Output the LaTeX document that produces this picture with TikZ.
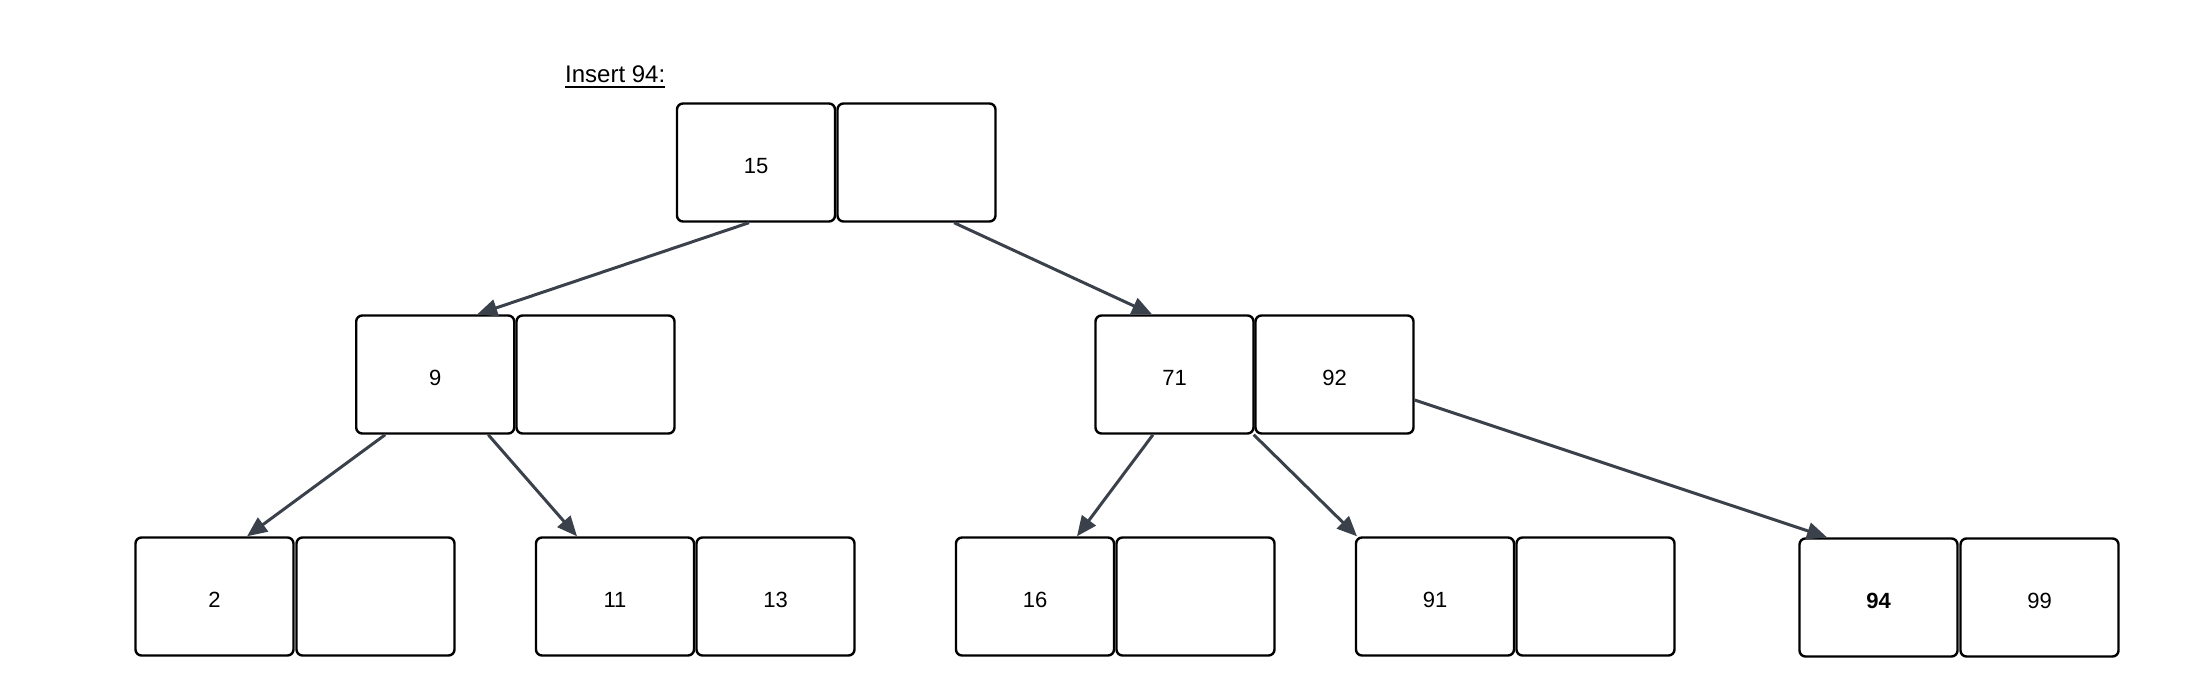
\documentclass[tikz,border=0pt]{standalone}
\usepackage{fontspec}
\setmainfont{Liberation Sans}
\usetikzlibrary{arrows.meta}
\definecolor{edgec}{HTML}{3A414B}
\newcommand{\cv}[1]{\raisebox{-10.5pt}[0pt][0pt]{#1}}
\tikzset{
  cell/.style={draw=black, line width=2.4pt, rounded corners=6pt, fill=white,
    minimum width=158pt, minimum height=118pt, inner sep=0pt,
    font=\fontsize{22}{26}\selectfont},
  link/.style={draw=edgec, line width=3pt, -{Triangle[length=20pt,width=17pt]}}
}
\begin{document}
\begin{tikzpicture}[x=1pt,y=-1pt]
\useasboundingbox (0,0) rectangle (2187,699);
% title
\node[anchor=base west, inner sep=0pt, font=\fontsize{24}{28}\selectfont] (title) at (565,82) {Insert 94:};
\draw[line width=1.3pt] ([yshift=-5pt]title.base west) -- ([yshift=-5pt]title.base east);
% root
\node[cell] (r1) at (756,162.5) {\cv{15}};
\node[cell] (r2) at (916.5,162.5) {};
% level 2
\node[cell] (a1) at (435.2,374.5) {\cv{9}};
\node[cell] (a2) at (595.5,374.5) {};
\node[cell] (b1) at (1174.5,374.5) {\cv{71}};
\node[cell] (b2) at (1334.5,374.5) {\cv{92}};
% leaves
\node[cell] (c1) at (214.5,596.5) {\cv{2}};
\node[cell] (c2) at (375.5,596.5) {};
\node[cell] (d1) at (615,596.5) {\cv{11}};
\node[cell] (d2) at (775.5,596.5) {\cv{13}};
\node[cell] (e1) at (1035,596.5) {\cv{16}};
\node[cell] (e2) at (1195.5,596.5) {};
\node[cell] (f1) at (1435,596.5) {\cv{91}};
\node[cell] (f2) at (1595.5,596.5) {};
\node[cell] (g1) at (1878.5,597.5) {\cv{\bfseries 94}};
\node[cell] (g2) at (2039.5,597.5) {\cv{99}};
% connectors
\draw[link] ([xshift=-7pt]r1.south) -- ([xshift=42pt]a1.north);
\draw[link] ([xshift=37.5pt]r2.south) -- ([xshift=-22.5pt]b1.north);
\draw[link] ([xshift=-50pt]a1.south) -- ([xshift=32.5pt]c1.north);
\draw[link] ([xshift=53pt]a1.south) -- ([xshift=-38pt]d1.north);
\draw[link] ([xshift=-21.5pt]b1.south) -- ([xshift=42pt]e1.north);
\draw[link] ([xshift=-1pt]b1.south east) -- ([xshift=-78pt]f1.north);
\draw[link] ([yshift=-25.5pt]b2.east) -- ([xshift=-51.5pt]g1.north);
\end{tikzpicture}
\end{document}
